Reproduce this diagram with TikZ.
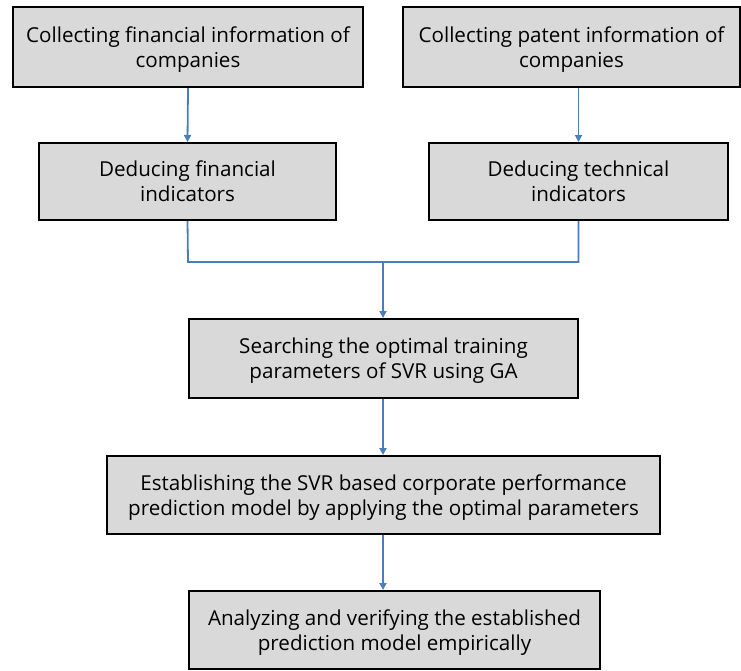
\documentclass[tikz,border=0pt]{standalone}
\usepackage{fontspec}
\setmainfont{Open Sans}
\usetikzlibrary{arrows.meta}
\definecolor{boxfill}{HTML}{D9D9D9}
\definecolor{linkblue}{HTML}{4A7EBB}
\tikzset{
  box/.style={draw=black, line width=2pt, fill=boxfill, align=center, inner sep=0pt,
    text depth=-9pt, font=\fontsize{20.6}{25}\selectfont},
  link/.style={draw=linkblue, line width=1.8pt},
  arr/.style={link, -{Triangle[length=7pt,width=7pt]}}
}
\begin{document}
\begin{tikzpicture}[x=1pt,y=-1pt]
\useasboundingbox (0,0) rectangle (741,670);
\node[box, minimum width=350pt, minimum height=80pt] (b1) at (188,47) {Collecting financial information of\\companies};
\node[box, minimum width=337pt, minimum height=80pt] (b3) at (571.5,47) {Collecting patent information of\\companies};
\node[box, minimum width=297pt, minimum height=77pt] (b2) at (187.5,181.5) {Deducing financial\\indicators};
\node[box, minimum width=299pt, minimum height=77pt] (b4) at (578.5,181.5) {Deducing technical\\indicators};
\node[box, minimum width=389pt, minimum height=79pt] (b5) at (383.5,358.5) {Searching the optimal training\\parameters of SVR using GA};
\node[box, minimum width=553pt, minimum height=78pt] (b6) at (383.5,495) {Establishing the SVR based corporate performance\\prediction model by applying the optimal parameters};
\node[box, minimum width=411pt, minimum height=78pt] (b7) at (394.5,630) {Analyzing and verifying the established\\prediction model empirically};
\coordinate (j) at (383,262);
\coordinate (jl) at (188,262);
\coordinate (jr) at (578.5,262);
\draw[arr] (b1.south) -- (b2.north);
\draw[arr] (b3.south -| b4.north) -- (b4.north);
\draw[link] (b2.south) -- (jl) -- (jr) -- (b4.south);
\draw[arr] (j) -- (j |- b5.north);
\draw[arr] (b5.south -| j) -- (j |- b6.north);
\draw[arr] (b6.south -| j) -- (j |- b7.north);
\end{tikzpicture}
\end{document}
